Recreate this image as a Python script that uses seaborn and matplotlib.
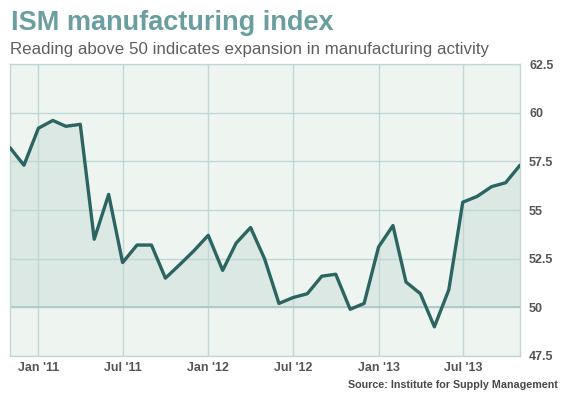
import numpy as np
import pandas as pd
import matplotlib
matplotlib.use("Agg")
import matplotlib.pyplot as plt
import seaborn as sns

# ---------------- data ----------------
start_month = "2010-11-01"
ism_values = [58.2, 57.3, 59.2, 59.6, 59.3, 59.4, 53.5, 55.8, 52.3, 53.2,
              53.2, 51.5, 52.2, 52.9, 53.7, 51.9, 53.3, 54.1, 52.5, 50.2,
              50.5, 50.7, 51.6, 51.7, 49.9, 50.2, 53.1, 54.2, 51.3, 50.7,
              49.0, 50.9, 55.4, 55.7, 56.2, 56.4, 57.3]
tick_dates = ["2011-01-01", "2011-07-01", "2012-01-01", "2012-07-01",
              "2013-01-01", "2013-07-01"]
tick_labels = ["Jan '11", "Jul '11", "Jan '12", "Jul '12", "Jan '13", "Jul '13"]
y_ticks = [47.5, 50, 52.5, 55, 57.5, 60, 62.5]
y_tick_labels = ["47.5", "50", "52.5", "55", "57.5", "60", "62.5"]
threshold = 50
title = "ISM manufacturing index"
subtitle = "Reading above 50 indicates expansion in manufacturing activity"
source = "Source: Institute for Supply Management"

# ---------------- style ----------------
sns.set_theme(style="white")
plt.rcParams["font.family"] = ["Liberation Sans", "DejaVu Sans"]

W, H = 569, 398
fig = plt.figure(figsize=(W / 100, H / 100), dpi=100)
fig.patch.set_facecolor("white")
ax = fig.add_axes([10 / W, 42 / H, 510 / W, 292 / H])

df = pd.DataFrame({
    "date": pd.date_range(start_month, periods=len(ism_values), freq="MS"),
    "value": ism_values,
})

grid_c = "#bfd8d7"
ax.set_facecolor("#eef5f1")
vals = df["value"].to_numpy()
ax.fill_between(df["date"], threshold, vals, where=vals >= threshold,
                interpolate=True, color="#dce8e3", lw=0, zorder=1)
ax.axhline(threshold, color="#b2c8c8", lw=1.3, zorder=1.6)
sns.lineplot(data=df, x="date", y="value", color="#2b6461", lw=2.4, ax=ax,
             zorder=3)

ax.set_xlim(df["date"].iloc[0], df["date"].iloc[-1])
ax.set_ylim(y_ticks[0], y_ticks[-1])
ax.set_xticks(pd.to_datetime(tick_dates))
ax.set_xticklabels(tick_labels)
ax.set_yticks(y_ticks)
ax.set_yticklabels(y_tick_labels)
ax.yaxis.tick_right()
ax.set_xlabel("")
ax.set_ylabel("")
ax.set_axisbelow("line")
ax.grid(True, color=grid_c, lw=1)
for s in ax.spines.values():
    s.set_color(grid_c)
    s.set_linewidth(1)
ax.tick_params(axis="both", length=0, labelsize=9, colors="#555555")
ax.tick_params(axis="y", pad=6.5)
ax.tick_params(axis="x", pad=4)
for t in ax.get_xticklabels() + ax.get_yticklabels():
    t.set_fontweight("bold")

t_title = fig.text(11 / W, 1 - 30 / H, title, fontsize=21, fontweight="bold",
                   color="#6a9ea1", ha="left", va="baseline")
t_sub = fig.text(10 / W, 1 - 54.3 / H, subtitle, fontsize=11,
                 color="#5f5f5f", ha="left", va="baseline")
t_src = fig.text(558 / W, 1 - 388 / H, source, fontsize=8.5,
                 fontweight="bold", color="#4a4a4a", ha="right",
                 va="baseline")

# fit text widths to the reference
fig.canvas.draw()
for t, target in [(t_title, 323), (t_sub, 477), (t_src, 209)]:
    w = t.get_window_extent().width
    t.set_fontsize(t.get_fontsize() * target / w)

fig.savefig("out.png", dpi=100)
